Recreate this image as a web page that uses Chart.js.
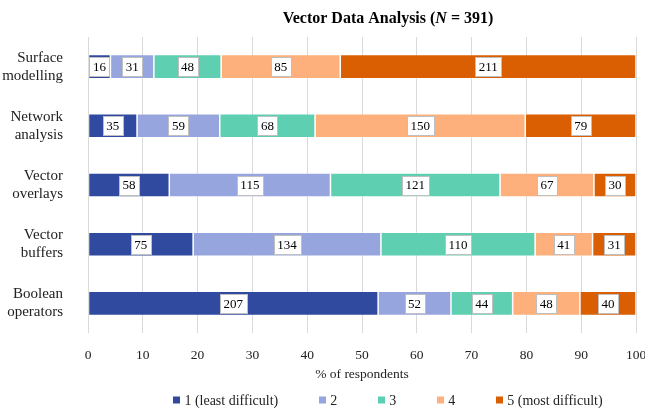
<!DOCTYPE html>
<html lang="en">
<head>
    <meta charset="UTF-8">
    <title>Vector Data Analysis</title>
    <script src="https://cdn.jsdelivr.net/npm/chart.js"></script>
    <style>
        body { margin: 0; background: #fff; }
        #wrap { width: 645px; height: 411px; }
    </style>
</head>
<body>
    <div id="wrap"><canvas id="vectorChart"></canvas></div>
    <script>
        const N = 391;
        const categories = [
            ['Surface', 'modelling'],
            ['Network', 'analysis'],
            ['Vector', 'overlays'],
            ['Vector', 'buffers'],
            ['Boolean', 'operators']
        ];
        const levelNames = ['1 (least difficult)', '2', '3', '4', '5 (most difficult)'];
        const level1 = [16, 35, 58, 75, 207];
        const level2 = [31, 59, 115, 134, 52];
        const level3 = [48, 68, 121, 110, 44];
        const level4 = [85, 150, 67, 41, 48];
        const level5 = [211, 79, 30, 31, 40];
        const xTicks = [0, 10, 20, 30, 40, 50, 60, 70, 80, 90, 100];
        const colors = ['#2f4a9e', '#96a5de', '#5ecfb1', '#fdb07b', '#d95f02'];

        const serif = '"Liberation Serif", "Times New Roman", serif';
        const counts = [level1, level2, level3, level4, level5];

        // labels with the respondent count, boxed in white
        const countLabels = {
            id: 'countLabels',
            afterDatasetsDraw(chart) {
                const ctx = chart.ctx;
                ctx.save();
                ctx.font = '13px ' + serif;
                ctx.textAlign = 'center';
                ctx.textBaseline = 'middle';
                chart.data.datasets.forEach((ds, i) => {
                    chart.getDatasetMeta(i).data.forEach((bar, j) => {
                        const txt = String(ds.counts[j]);
                        const cx = (bar.x + bar.base) / 2;
                        const w = ctx.measureText(txt).width + 7;
                        const h = 19;
                        ctx.fillStyle = '#ffffff';
                        ctx.fillRect(Math.round(cx - w / 2) + 0.5, Math.round(bar.y - h / 2) + 0.5, Math.round(w), h);
                        ctx.strokeStyle = '#bfbfbf';
                        ctx.lineWidth = 1;
                        ctx.strokeRect(Math.round(cx - w / 2) + 0.5, Math.round(bar.y - h / 2) + 0.5, Math.round(w), h);
                        ctx.fillStyle = '#000';
                        ctx.fillText(txt, cx, bar.y + 1);
                    });
                });
                ctx.restore();
            }
        };

        // title with italic N, and the legend, centred like the original
        const titleAndLegend = {
            id: 'titleAndLegend',
            afterDraw(chart) {
                const ctx = chart.ctx;
                const centre = 388;
                ctx.save();
                ctx.textBaseline = 'middle';
                ctx.textAlign = 'left';
                ctx.fillStyle = '#000';
                const parts = [
                    ['bold 16px ' + serif, 'Vector Data Analysis ('],
                    ['italic bold 16px ' + serif, 'N'],
                    ['bold 16px ' + serif, ' = 391)']
                ];
                let total = 0;
                parts.forEach(p => { ctx.font = p[0]; total += ctx.measureText(p[1]).width; });
                let x = centre - total / 2;
                parts.forEach(p => {
                    ctx.font = p[0];
                    ctx.fillText(p[1], x, 19);
                    x += ctx.measureText(p[1]).width;
                });

                ctx.font = '14px ' + serif;
                const box = 7, gap = 4, pad = 41, ly = 400;
                const widths = levelNames.map(t => box + gap + ctx.measureText(t).width);
                const full = widths.reduce((a, b) => a + b, 0) + pad * (widths.length - 1);
                x = centre - full / 2;
                levelNames.forEach((t, i) => {
                    ctx.fillStyle = colors[i];
                    ctx.fillRect(Math.round(x), ly - 3.5, box, box);
                    ctx.fillStyle = '#222';
                    ctx.fillText(t, x + box + gap, ly + 1);
                    x += widths[i] + pad;
                });
                ctx.restore();
            }
        };

        const datasets = counts.map((c, i) => ({
            label: levelNames[i],
            counts: c,
            data: c.map(v => v / N * 100),
            backgroundColor: colors[i],
            borderColor: 'rgba(255,255,255,0.6)',
            borderWidth: 0.75,
            borderSkipped: false,
            barPercentage: 0.407,
            categoryPercentage: 1
        }));

        new Chart(document.getElementById('vectorChart'), {
            type: 'bar',
            data: { labels: categories, datasets: datasets },
            options: {
                indexAxis: 'y',
                responsive: true,
                maintainAspectRatio: false,
                animation: false,
                layout: { padding: { top: 37, right: 0, bottom: 28, left: 0 } },
                scales: {
                    x: {
                        stacked: true,
                        min: 0,
                        max: 100,
                        afterBuildTicks: axis => { axis.ticks = xTicks.map(v => ({ value: v })); },
                        afterFit: axis => { axis.height = 50; axis.paddingRight = 9; },
                        grid: { color: '#d9d9d9', drawTicks: false },
                        border: { display: false },
                        ticks: { padding: 14, color: '#222', font: { family: serif, size: 13.5 } },
                        title: {
                            display: true,
                            text: '% of respondents',
                            color: '#222',
                            padding: { top: 6, bottom: 0 },
                            font: { family: serif, size: 13.5 }
                        }
                    },
                    y: {
                        stacked: true,
                        afterFit: axis => { axis.width = 88; },
                        grid: { display: false },
                        border: { display: false },
                        ticks: { padding: 17, color: '#222', font: { family: serif, size: 15, lineHeight: 1.2 } }
                    }
                },
                plugins: {
                    legend: { display: false },
                    title: { display: false },
                    tooltip: { enabled: false }
                }
            },
            plugins: [countLabels, titleAndLegend]
        });
    </script>
</body>
</html>
